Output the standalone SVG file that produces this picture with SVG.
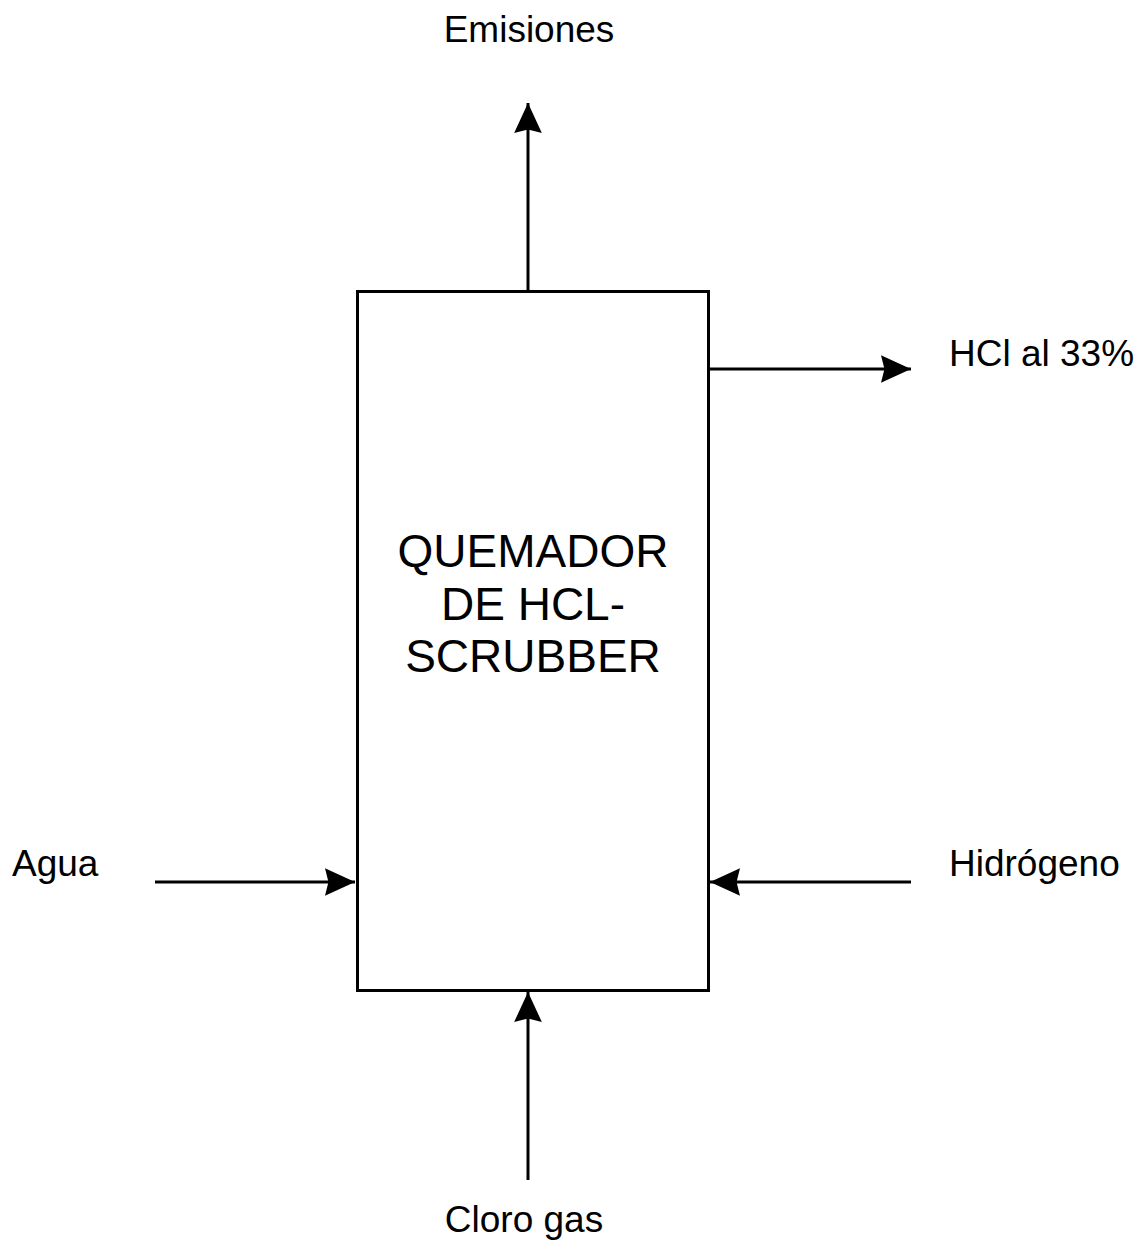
<svg xmlns="http://www.w3.org/2000/svg" width="1140" height="1242" viewBox="0 0 1140 1242">
<defs>
<style>
.lbl{font-family:"Liberation Sans",Arial,sans-serif;font-size:37px;fill:#000}
.main{font-family:"Liberation Sans",Arial,sans-serif;font-size:46px;fill:#000;text-anchor:middle}
.edge{stroke:#000;stroke-width:3;fill:none}
</style>
<marker id="arr" markerUnits="userSpaceOnUse" markerWidth="30" markerHeight="30" viewBox="0 0 26 26" refX="26" refY="13" orient="auto">
<path d="M0,1 L26,13 L0,25 L3,13 Z" fill="#000"/>
</marker>
</defs>
<rect width="1140" height="1242" fill="#fff"/>
<g id="connectors">
<line class="edge" x1="528" y1="291" x2="528" y2="103" marker-end="url(#arr)"/>
<line class="edge" x1="709" y1="369" x2="911" y2="369" marker-end="url(#arr)"/>
<line class="edge" x1="155" y1="882" x2="355" y2="882" marker-end="url(#arr)"/>
<line class="edge" x1="911" y1="882" x2="710" y2="882" marker-end="url(#arr)"/>
<line class="edge" x1="528" y1="1180" x2="528" y2="992" marker-end="url(#arr)"/>
</g>
<g id="quemador">
<rect x="357.5" y="291.5" width="351" height="699" fill="#fff" stroke="#000" stroke-width="3"/>
<text class="main" x="533" y="567">QUEMADOR</text>
<text class="main" x="533" y="620">DE HCL-</text>
<text class="main" x="533" y="672">SCRUBBER</text>
</g>
<g id="emisiones"><text class="lbl" x="529" y="42" text-anchor="middle">Emisiones</text></g>
<g id="hcl"><text class="lbl" x="949" y="366">HCl al 33%</text></g>
<g id="agua"><text class="lbl" x="12" y="876">Agua</text></g>
<g id="hidrogeno"><text class="lbl" x="949" y="876">Hidrógeno</text></g>
<g id="cloro"><text class="lbl" x="524" y="1232" text-anchor="middle">Cloro gas</text></g>
</svg>
